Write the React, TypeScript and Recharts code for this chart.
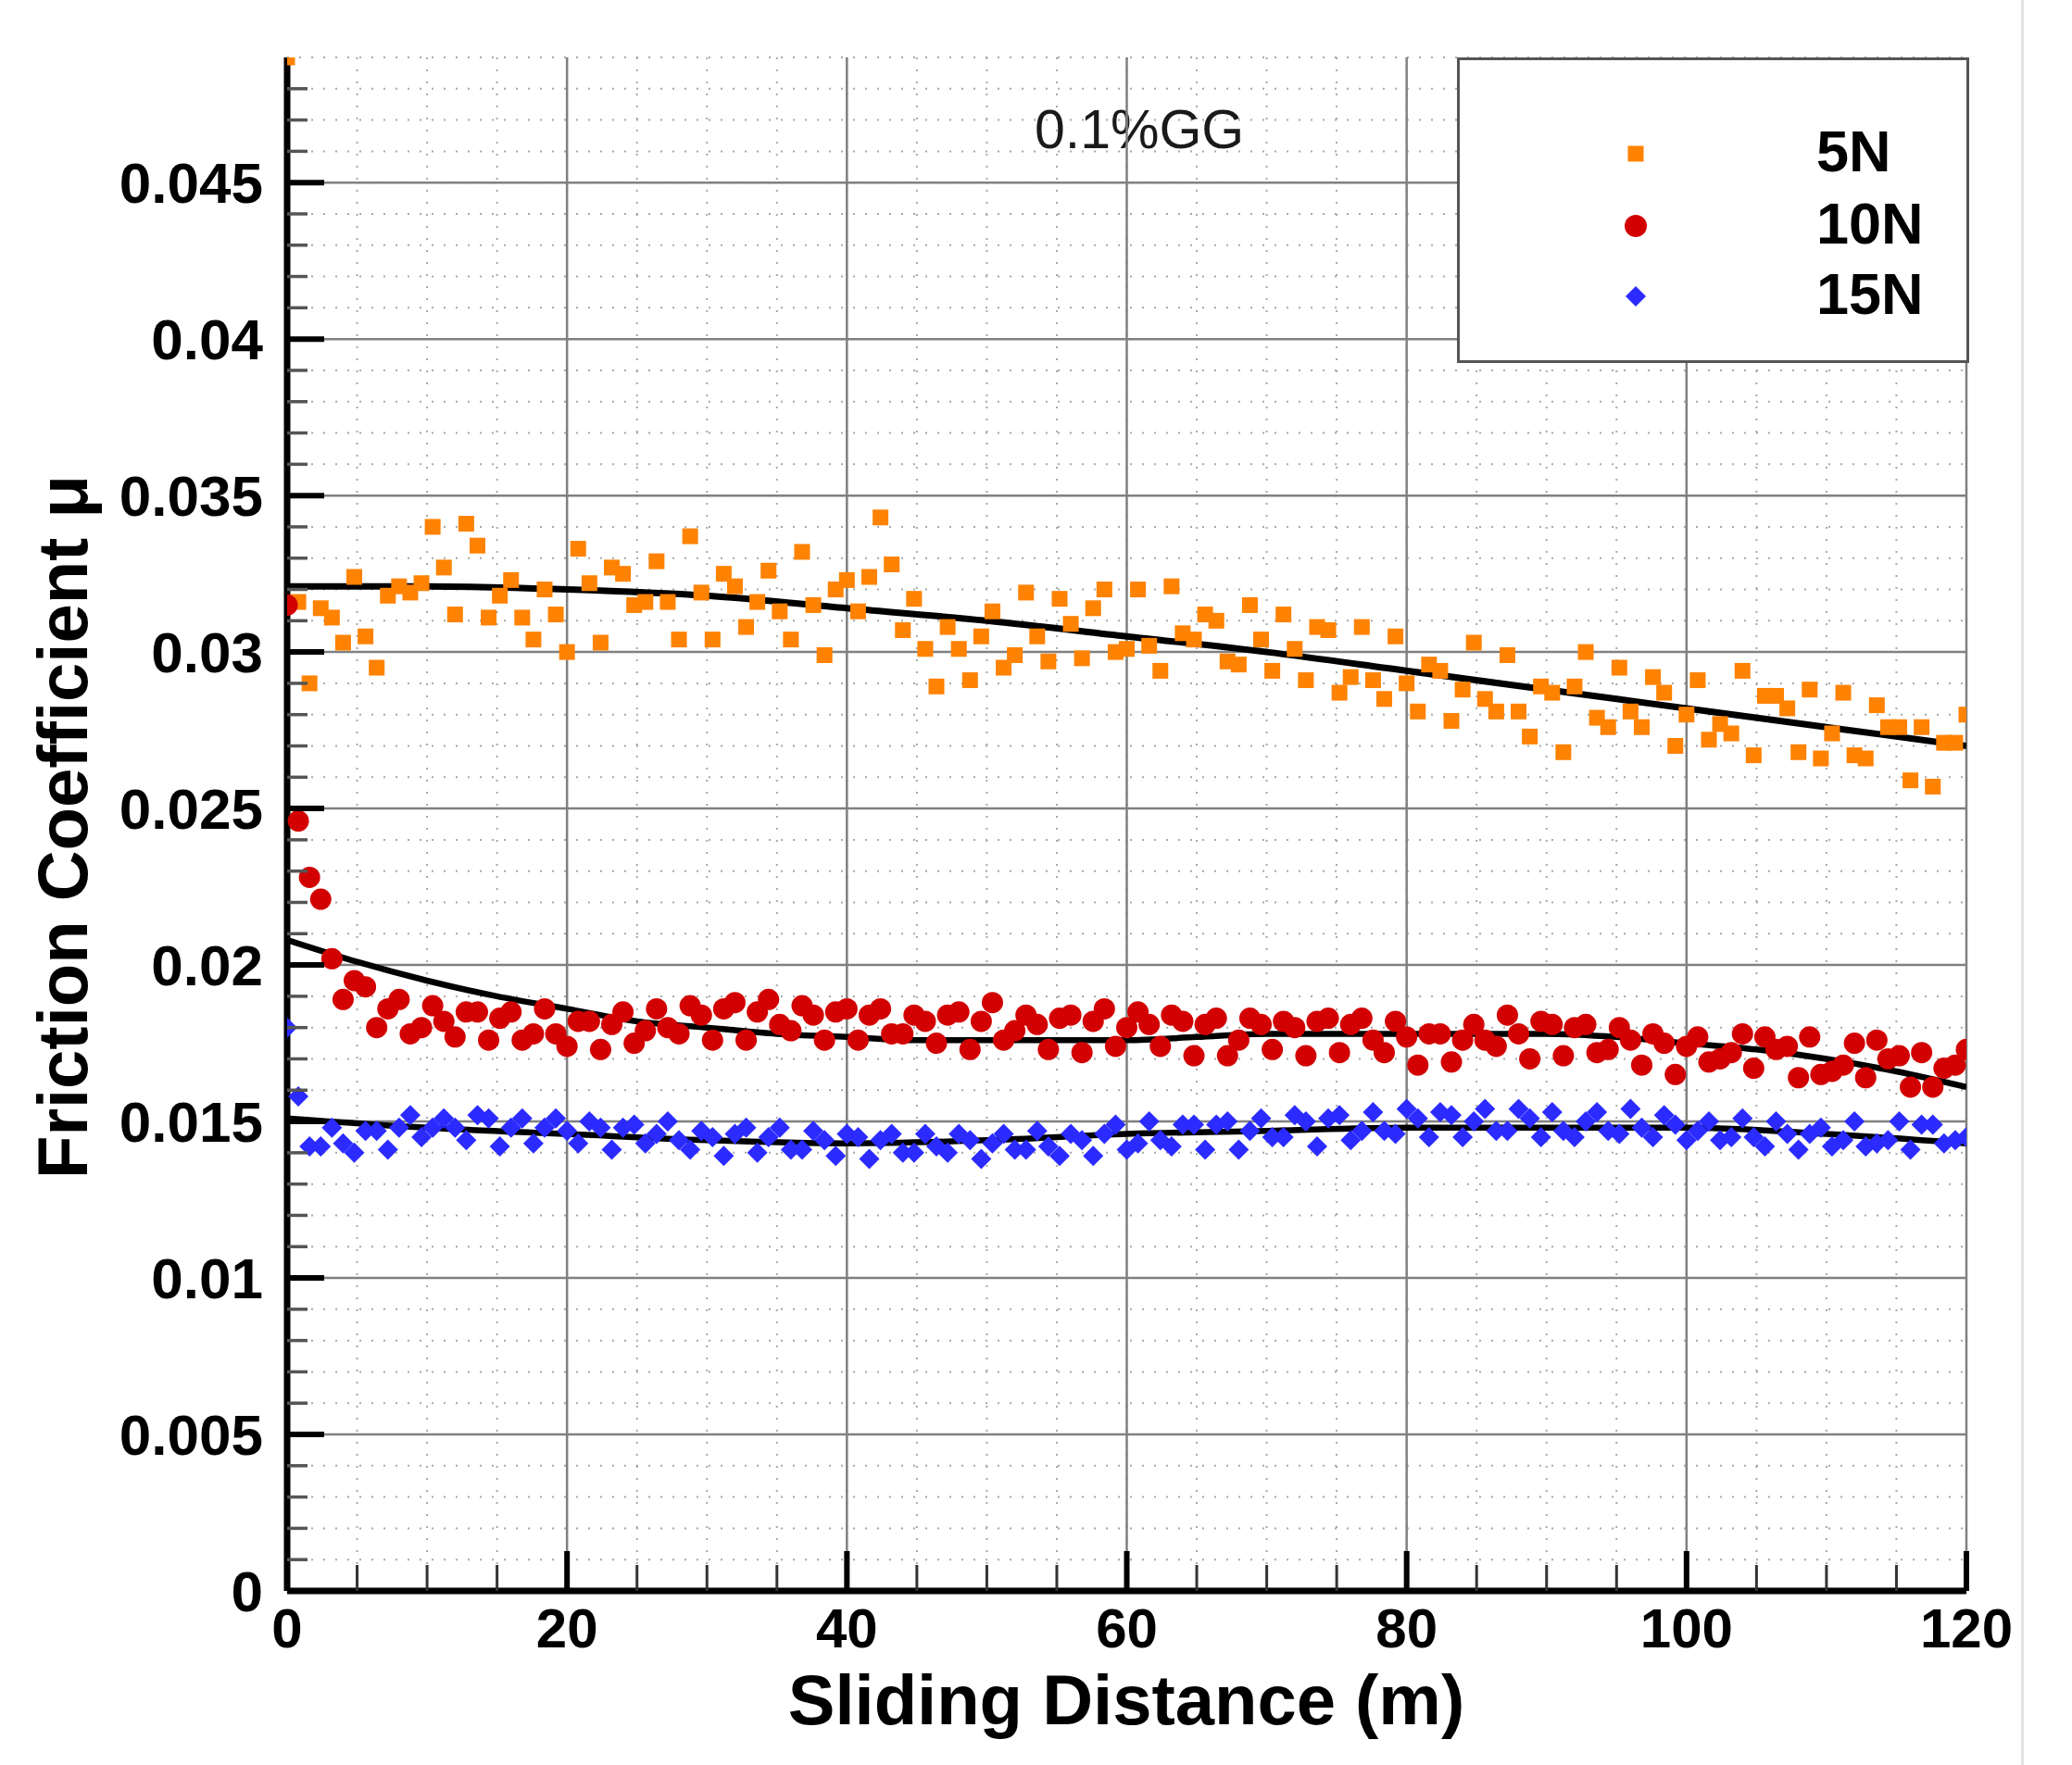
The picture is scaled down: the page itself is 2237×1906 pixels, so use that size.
import {
  CartesianGrid,
  ComposedChart,
  Customized,
  Legend,
  Line,
  ReferenceLine,
  Scatter,
  XAxis,
  YAxis,
} from 'recharts';

const FONT = '"Liberation Sans", Arial, Helvetica, sans-serif';
const ORANGE = '#FF8200';
const RED = '#D20000';
const BLUE = '#2B2BFF';

// sliding distance: one sample every 0.8 m, 0 .. 120 m
const SAMPLE_STEP = 0.8;

// friction coefficient readings, 5N load
const mu5N = [
  0.049, 0.0316, 0.029, 0.0314, 0.0311, 0.0303, 0.0324, 0.0305, 0.0295, 0.0318,
  0.0321, 0.0319, 0.0322, 0.034, 0.0327, 0.0312, 0.0341, 0.0334, 0.0311, 0.0318,
  0.0323, 0.0311, 0.0304, 0.032, 0.0312, 0.03, 0.0333, 0.0322, 0.0303, 0.0327,
  0.0325, 0.0315, 0.0316, 0.0329, 0.0316, 0.0304, 0.0337, 0.0319, 0.0304, 0.0325,
  0.0321, 0.0308, 0.0316, 0.0326, 0.0313, 0.0304, 0.0332, 0.0315, 0.0299, 0.032,
  0.0323, 0.0313, 0.0324, 0.0343, 0.0328, 0.0307, 0.0317, 0.0301, 0.0289, 0.0308,
  0.0301, 0.0291, 0.0305, 0.0313, 0.0295, 0.0299, 0.0319, 0.0305, 0.0297, 0.0317,
  0.0309, 0.0298, 0.0314, 0.032, 0.03, 0.0301, 0.032, 0.0302, 0.0294, 0.0321,
  0.0306, 0.0304, 0.0312, 0.031, 0.0297, 0.0296, 0.0315, 0.0304, 0.0294, 0.0312,
  0.0301, 0.0291, 0.0308, 0.0307, 0.0287, 0.0292, 0.0308, 0.0291, 0.0285, 0.0305,
  0.029, 0.0281, 0.0296, 0.0294, 0.0278, 0.0288, 0.0303, 0.0285, 0.0281, 0.0299,
  0.0281, 0.0273, 0.0289, 0.0287, 0.0268, 0.0289, 0.03, 0.0279, 0.0276, 0.0295,
  0.0281, 0.0276, 0.0292, 0.0287, 0.027, 0.028, 0.0291, 0.0272, 0.0277, 0.0274,
  0.0294, 0.0267, 0.0286, 0.0286, 0.0282, 0.0268, 0.0288, 0.0266, 0.0274, 0.0287,
  0.0267, 0.0266, 0.0283, 0.0276, 0.0276, 0.0259, 0.0276, 0.0257, 0.0271, 0.0271,
  0.028,
];

// 10N load
const mu10N = [
  0.0315, 0.0246, 0.0228, 0.0221, 0.0202, 0.0189, 0.0195, 0.0193, 0.018, 0.0186,
  0.0189, 0.0178, 0.018, 0.0187, 0.0182, 0.0177, 0.0185, 0.0185, 0.0176, 0.0183,
  0.0185, 0.0176, 0.0178, 0.0186, 0.0178, 0.0174, 0.0182, 0.0182, 0.0173, 0.0181,
  0.0185, 0.0175, 0.0179, 0.0186, 0.018, 0.0178, 0.0187, 0.0184, 0.0176, 0.0186,
  0.0188, 0.0176, 0.0185, 0.0189, 0.0181, 0.0179, 0.0187, 0.0184, 0.0176, 0.0185,
  0.0186, 0.0176, 0.0184, 0.0186, 0.0178, 0.0178, 0.0184, 0.0182, 0.0175, 0.0184,
  0.0185, 0.0173, 0.0182, 0.0188, 0.0176, 0.0179, 0.0184, 0.0181, 0.0173, 0.0183,
  0.0184, 0.0172, 0.0182, 0.0186, 0.0174, 0.018, 0.0185, 0.0181, 0.0174, 0.0184,
  0.0182, 0.0171, 0.0181, 0.0183, 0.0171, 0.0176, 0.0183, 0.0181, 0.0173, 0.0182,
  0.018, 0.0171, 0.0182, 0.0183, 0.0172, 0.0181, 0.0183, 0.0176, 0.0172, 0.0182,
  0.0177, 0.0168, 0.0178, 0.0178, 0.0169, 0.0176, 0.0181, 0.0176, 0.0174, 0.0184,
  0.0178, 0.017, 0.0182, 0.0181, 0.0171, 0.018, 0.0181, 0.0172, 0.0173, 0.018,
  0.0176, 0.0168, 0.0178, 0.0175, 0.0165, 0.0174, 0.0177, 0.0169, 0.017, 0.0172,
  0.0178, 0.0167, 0.0177, 0.0173, 0.0174, 0.0164, 0.0177, 0.0165, 0.0166, 0.0168,
  0.0175, 0.0164, 0.0176, 0.017, 0.0171, 0.0161, 0.0172, 0.0161, 0.0167, 0.0168,
  0.0173,
];

// 15N load
const mu15N = [
  0.018, 0.0158, 0.0142, 0.0142, 0.0148, 0.0143, 0.014, 0.0147, 0.0147, 0.0141,
  0.0148, 0.0152, 0.0145, 0.0148, 0.0151, 0.0148, 0.0144, 0.0152, 0.0151, 0.0142,
  0.0148, 0.0151, 0.0143, 0.0148, 0.0151, 0.0147, 0.0143, 0.015, 0.0148, 0.0141,
  0.0148, 0.0149, 0.0143, 0.0146, 0.015, 0.0144, 0.0141, 0.0147, 0.0145, 0.0139,
  0.0146, 0.0148, 0.014, 0.0145, 0.0148, 0.0141, 0.0141, 0.0147, 0.0144, 0.0139,
  0.0146, 0.0145, 0.0138, 0.0144, 0.0146, 0.014, 0.014, 0.0146, 0.0142, 0.014,
  0.0146, 0.0144, 0.0138, 0.0143, 0.0146, 0.0141, 0.0141, 0.0147, 0.0142, 0.0139,
  0.0146, 0.0144, 0.0139, 0.0146, 0.0149, 0.0141, 0.0143, 0.015, 0.0144, 0.0142,
  0.0149, 0.0149, 0.0141, 0.0149, 0.015, 0.0141, 0.0147, 0.0151, 0.0145, 0.0145,
  0.0152, 0.015, 0.0142, 0.0151, 0.0152, 0.0144, 0.0147, 0.0153, 0.0147, 0.0146,
  0.0154, 0.0151, 0.0145, 0.0153, 0.0152, 0.0145, 0.015, 0.0154, 0.0147, 0.0147,
  0.0154, 0.0151, 0.0145, 0.0153, 0.0147, 0.0145, 0.015, 0.0153, 0.0147, 0.0146,
  0.0154, 0.0148, 0.0145, 0.0152, 0.0149, 0.0144, 0.0147, 0.015, 0.0144, 0.0145,
  0.0151, 0.0145, 0.0142, 0.015, 0.0146, 0.0141, 0.0146, 0.0148, 0.0142, 0.0144,
  0.015, 0.0142, 0.0143, 0.0144, 0.015, 0.0141, 0.0149, 0.0149, 0.0143, 0.0144,
  0.0145,
];

// fitted trend curves
const fitDistance = [0, 10, 20, 30, 40, 50, 60, 70, 80, 90, 100, 110, 120];
const fit5N = [0.0321, 0.0321, 0.032, 0.0318, 0.0314, 0.031, 0.0305, 0.03, 0.0294, 0.0288, 0.0282, 0.0276, 0.027];
const fit15N = [0.0151, 0.0148, 0.0146, 0.0144, 0.0143, 0.0144, 0.0146, 0.0147, 0.0148, 0.0148, 0.0148, 0.0146, 0.0143];
const fitDistanceFine = [0, 5, 10, 15, 20, 25, 30, 35, 40, 45, 50, 55, 60, 65, 70, 75, 80, 85, 90, 95, 100, 105, 110, 115, 120];
const fit10N = [
  0.0208, 0.0201, 0.0195, 0.019, 0.0186, 0.0182, 0.018, 0.0178, 0.0177, 0.0176, 0.0176, 0.0176, 0.0176,
  0.0177, 0.0178, 0.0178, 0.0178, 0.0178, 0.0178, 0.0177, 0.0175, 0.0173, 0.017, 0.0166, 0.0161,
];

// axes
const xTicks = [0, 5, 10, 15, 20, 25, 30, 35, 40, 45, 50, 55, 60, 65, 70, 75, 80, 85, 90, 95, 100, 105, 110, 115, 120];
const xMajorTicks = [0, 20, 40, 60, 80, 100, 120];
const yMajorTicks = [0, 0.005, 0.01, 0.015, 0.02, 0.025, 0.03, 0.035, 0.04, 0.045];
const yTickLabels = ['0', '0.005', '0.01', '0.015', '0.02', '0.025', '0.03', '0.035', '0.04', '0.045'];
const yTicks = Array.from({ length: 49 }, (_, k) => k / 1000);

const legendNames = ['5N', '10N', '15N'];

const toPoints = (vals: number[]) => vals.map((y, i) => ({ x: +(i * SAMPLE_STEP).toFixed(1), y }));
const toFit = (xs: number[], ys: number[]) => xs.map((x, i) => ({ x, y: ys[i] }));

const majorIndex = (v: number, list: number[]) => list.findIndex((m) => Math.abs(m - v) < 1e-9);

function SquareMark(p: any) {
  return <rect x={p.cx - 8.5} y={p.cy - 8.5} width={17} height={17} fill={ORANGE} />;
}

function CircleMark(p: any) {
  return <circle cx={p.cx} cy={p.cy} r={11.5} fill={RED} />;
}

function DiamondMark(p: any) {
  const h = 11;
  return (
    <polygon
      points={`${p.cx},${p.cy - h} ${p.cx + h},${p.cy} ${p.cx},${p.cy + h} ${p.cx - h},${p.cy}`}
      fill={BLUE}
    />
  );
}

function YTick({ x, y, payload }: any) {
  const idx = majorIndex(payload.value, yMajorTicks);
  const major = idx >= 0;
  return (
    <g>
      <line
        x1={x}
        x2={x + (major ? 40 : 22)}
        y1={y}
        y2={y}
        stroke={major ? '#000' : '#555'}
        strokeWidth={major ? 6 : 3.5}
      />
      {major && (
        <text x={x - 26} y={y + 22} textAnchor="end" fontFamily={FONT} fontWeight="bold" fontSize={62} fill="#000">
          {yTickLabels[idx]}
        </text>
      )}
    </g>
  );
}

function XTick({ x, y, payload }: any) {
  const major = majorIndex(payload.value, xMajorTicks) >= 0;
  return (
    <g>
      <line
        x1={x}
        x2={x}
        y1={y}
        y2={y - (major ? 43 : 28)}
        stroke={major ? '#000' : '#333'}
        strokeWidth={major ? 6 : 3}
      />
      {major && (
        <text x={x} y={y + 61} textAnchor="middle" fontFamily={FONT} fontWeight="bold" fontSize={60} fill="#000">
          {payload.value}
        </text>
      )}
    </g>
  );
}

function ChartTexts() {
  return (
    <g>
      <text x={1117} y={160} fontFamily={FONT} fontSize={59} fill="#1a1a1a">
        0.1%GG
      </text>
      <text x={1216} y={1862} textAnchor="middle" fontFamily={FONT} fontWeight="bold" fontSize={76} fill="#000">
        Sliding Distance (m)
      </text>
      <text
        x={94}
        y={893}
        transform="rotate(-90, 94, 893)"
        textAnchor="middle"
        fontFamily={FONT}
        fontWeight="bold"
        fontSize={76}
        fill="#000"
      >
        Friction Coefficient μ
      </text>
    </g>
  );
}

function LegendBox() {
  const rows = [104, 182, 258];
  return (
    <svg width={553} height={330} style={{ display: 'block' }}>
      <rect x={1.5} y={1.5} width={550} height={327} fill="#fff" stroke="#555" strokeWidth={3} />
      <rect x={193 - 8.5} y={rows[0] - 8.5} width={17} height={17} fill={ORANGE} />
      <circle cx={193} cy={rows[1]} r={12} fill={RED} />
      <polygon points={`193,${rows[2] - 11} 204,${rows[2]} 193,${rows[2] + 11} 182,${rows[2]}`} fill={BLUE} />
      {legendNames.map((name, i) => (
        <text key={name} x={388} y={rows[i] + 19} fontFamily={FONT} fontWeight="bold" fontSize={63} fill="#000">
          {name}
        </text>
      ))}
    </svg>
  );
}

export default function App() {
  return (
    <div style={{ position: 'absolute', left: 0, top: 0, width: 2237, height: 1906, background: '#fff', overflow: 'hidden' }}>
      <ComposedChart width={2237} height={1906} margin={{ top: 62, right: 114, bottom: 0, left: 0 }}>
        <CartesianGrid stroke="#a8a8a8" strokeWidth={2} strokeDasharray="2 11" />
        {yMajorTicks
          .filter((v) => v > 0)
          .map((v) => (
            <ReferenceLine key={`y${v}`} y={v} stroke="#808080" strokeWidth={2.5} />
          ))}
        {xMajorTicks
          .filter((v) => v > 0)
          .map((v) => (
            <ReferenceLine key={`x${v}`} x={v} stroke="#808080" strokeWidth={2.5} />
          ))}
        <XAxis
          type="number"
          dataKey="x"
          domain={[0, 120]}
          ticks={xTicks}
          interval={0}
          allowDataOverflow
          height={188}
          tickSize={0}
          tickMargin={0}
          tickLine={false}
          axisLine={{ stroke: '#000', strokeWidth: 7 }}
          tick={XTick}
        />
        <YAxis
          type="number"
          dataKey="y"
          domain={[0, 0.049]}
          ticks={yTicks}
          interval={0}
          allowDataOverflow
          width={310}
          tickSize={0}
          tickMargin={0}
          tickLine={false}
          axisLine={{ stroke: '#000', strokeWidth: 7 }}
          tick={YTick}
        />
        <Scatter name="5N" data={toPoints(mu5N)} shape={SquareMark} isAnimationActive={false} />
        <Scatter name="10N" data={toPoints(mu10N)} shape={CircleMark} isAnimationActive={false} />
        <Scatter name="15N" data={toPoints(mu15N)} shape={DiamondMark} isAnimationActive={false} />
        <Line data={toFit(fitDistance, fit5N)} dataKey="y" type="monotone" stroke="#000" strokeWidth={7} dot={false} activeDot={false} legendType="none" isAnimationActive={false} />
        <Line data={toFit(fitDistanceFine, fit10N)} dataKey="y" type="monotone" stroke="#000" strokeWidth={6.5} dot={false} activeDot={false} legendType="none" isAnimationActive={false} />
        <Line data={toFit(fitDistance, fit15N)} dataKey="y" type="monotone" stroke="#000" strokeWidth={6.5} dot={false} activeDot={false} legendType="none" isAnimationActive={false} />
        <Customized component={ChartTexts} />
        <Legend
          layout="vertical"
          align="center"
          verticalAlign="middle"
          wrapperStyle={{ position: 'absolute', left: 1573, top: 62, width: 553, height: 330 }}
          content={LegendBox}
        />
      </ComposedChart>
      <div style={{ position: 'absolute', left: 2182, top: 0, width: 3, height: 1906, background: '#e2e2e2' }} />
    </div>
  );
}
